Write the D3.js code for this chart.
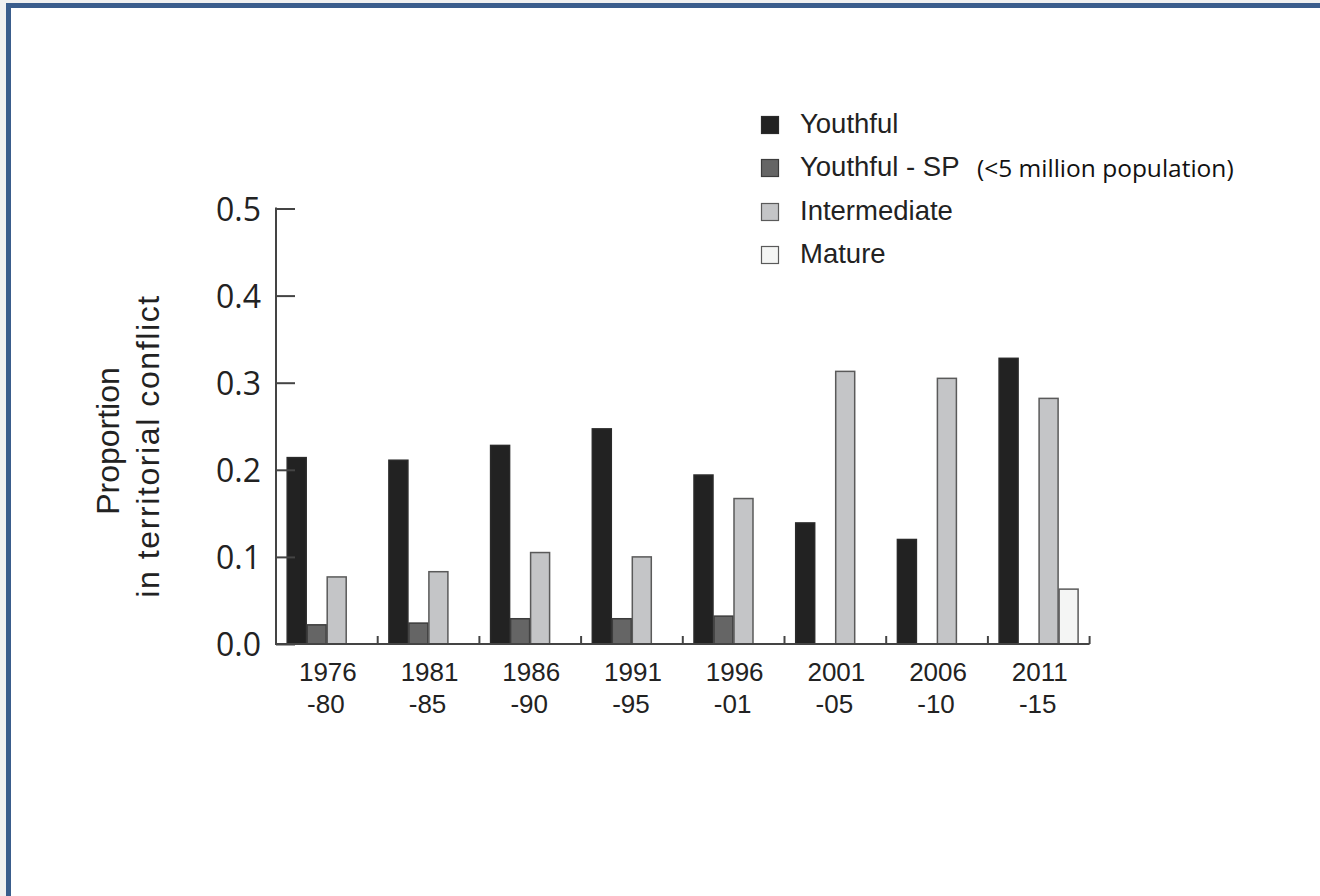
<!DOCTYPE html>
<html>
<head>
<meta charset="utf-8">
<script src="https://cdn.jsdelivr.net/npm/d3@7"></script>
<style>
  html, body { margin: 0; padding: 0; background: #f0f0f0; }
  svg { display: block; }
</style>
</head>
<body>
<svg id="chart" width="1320" height="896"></svg>
<script>
// Periods (two-line labels)
const periods = ["1976-80", "1981-85", "1986-90", "1991-95", "1996-01", "2001-05", "2006-10", "2011-15"];
const periodTop = ["1976", "1981", "1986", "1991", "1996", "2001", "2006", "2011"];
const periodBottom = ["-80", "-85", "-90", "-95", "-01", "-05", "-10", "-15"];

// Age-structure categories
const seriesNames = ["Youthful", "Youthful - SP", "Intermediate", "Mature"];

// Proportion of states in territorial conflict, by period
const youthful     = [0.214, 0.211, 0.228, 0.247, 0.194, 0.139, 0.120, 0.328];
const youthfulSP   = [0.022, 0.024, 0.029, 0.029, 0.032, 0, 0, 0];
const intermediate = [0.077, 0.083, 0.105, 0.100, 0.167, 0.313, 0.305, 0.282];
const mature       = [0, 0, 0, 0, 0, 0, 0, 0.063];

const yTicks = [0.0, 0.1, 0.2, 0.3, 0.4, 0.5];

const fills = ["#222222", "#656565", "#c4c5c7", "#f4f5f4"];
const strokes = ["#2a2a2a", "#3c3c3c", "#5a5a5a", "#5a5a5a"];

const svg = d3.select("#chart");

// page frame
svg.append("rect")
  .attr("x", 8.5).attr("y", 5.5)
  .attr("width", 1400).attr("height", 1000)
  .attr("fill", "#ffffff")
  .attr("stroke", "#3a5d8c")
  .attr("stroke-width", 5);

const x0 = d3.scaleBand().domain(periods).range([276, 1089.6]).padding(0);
const x1 = d3.scaleBand().domain(seriesNames)
  .range([10.7, x0.bandwidth() - 11]).padding(0);
const y = d3.scaleLinear().domain([0, 0.5]).range([644, 208.5]);

const seriesData = [youthful, youthfulSP, intermediate, mature];

const rows = periods.map((p, i) => ({
  period: p,
  values: seriesNames.map((s, k) => ({ series: s, k, value: seriesData[k][i] }))
}));

const g = svg.append("g");

// bars
const groups = g.selectAll("g.period").data(rows).join("g")
  .attr("class", "period")
  .attr("transform", d => `translate(${x0(d.period)},0)`);

groups.selectAll("rect").data(d => d.values).join("rect")
  .attr("x", d => x1(d.series) + 0.5)
  .attr("width", x1.bandwidth() - 1)
  .attr("y", d => y(d.value))
  .attr("height", d => y(0) - y(d.value))
  .attr("fill", d => fills[d.k])
  .attr("stroke", d => strokes[d.k])
  .attr("stroke-width", 1.5);

// y axis
const yAxis = d3.axisRight(y).tickValues(yTicks).tickSize(19).tickFormat("");
const yg = svg.append("g").attr("transform", "translate(276,0)").call(yAxis);
yg.select(".domain").remove();
yg.selectAll(".tick line").attr("stroke", "#444").attr("stroke-width", 2);
svg.append("line")
  .attr("x1", 276).attr("x2", 276)
  .attr("y1", y(0.5) - 1).attr("y2", y(0) + 1)
  .attr("stroke", "#444").attr("stroke-width", 2);

// y tick labels
svg.append("g").selectAll("text").data(yTicks).join("text")
  .attr("x", 261)
  .attr("y", d => y(d) + 12)
  .attr("text-anchor", "end")
  .attr("font-family", "'Open Sans', sans-serif")
  .attr("font-size", 32)
  .attr("fill", "#222")
  .text(d => d3.format(".1f")(d));

// x axis baseline with group boundary ticks
svg.append("line")
  .attr("x1", 276).attr("x2", x0.range()[1])
  .attr("y1", y(0)).attr("y2", y(0))
  .attr("stroke", "#444").attr("stroke-width", 2);
svg.append("g").selectAll("line").data(periods).join("line")
  .attr("x1", d => x0(d) + x0.bandwidth())
  .attr("x2", d => x0(d) + x0.bandwidth())
  .attr("y1", y(0)).attr("y2", y(0) - 8)
  .attr("stroke", "#444").attr("stroke-width", 2);

// x tick labels
const xl = svg.append("g").attr("font-family", "'Liberation Sans', Arial, sans-serif")
  .attr("font-size", 26).attr("fill", "#222").attr("text-anchor", "middle");
xl.selectAll("text.top").data(periods).join("text")
  .attr("class", "top")
  .attr("x", d => x0(d) + x0.bandwidth() / 2 + 1)
  .attr("y", 681)
  .text((d, i) => periodTop[i]);
xl.selectAll("text.bottom").data(periods).join("text")
  .attr("class", "bottom")
  .attr("x", d => x0(d) + x0.bandwidth() / 2 - 1)
  .attr("y", 713)
  .text((d, i) => periodBottom[i]);

// y axis title
const title = svg.append("text")
  .attr("transform", "rotate(-90)")
  .attr("font-family", "'Liberation Sans', Arial, sans-serif")
  .attr("font-size", 32)
  .attr("fill", "#222")
  .attr("text-anchor", "middle");
title.append("tspan").attr("x", -441).attr("y", 119).text("Proportion");
title.append("tspan").attr("x", -446).attr("y", 159)
  .attr("letter-spacing", 1.6).text("in territorial conflict");

// legend
const legend = svg.append("g");
const rowsY = [133, 176, 220, 263];
seriesNames.forEach((name, k) => {
  legend.append("rect")
    .attr("x", 761.5).attr("y", rowsY[k] - 16.5)
    .attr("width", 17).attr("height", 17)
    .attr("fill", fills[k])
    .attr("stroke", strokes[k])
    .attr("stroke-width", 1.2);
  legend.append("text")
    .attr("x", 800).attr("y", rowsY[k])
    .attr("font-family", "'Liberation Sans', Arial, sans-serif")
    .attr("font-size", 27.5)
    .attr("fill", "#222")
    .text(name);
});
legend.append("text")
  .attr("x", 977).attr("y", 177)
  .attr("font-family", "'Open Sans', sans-serif")
  .attr("font-size", 24.5)
  .attr("fill", "#111")
  .text("(<5 million population)");
</script>
</body>
</html>
